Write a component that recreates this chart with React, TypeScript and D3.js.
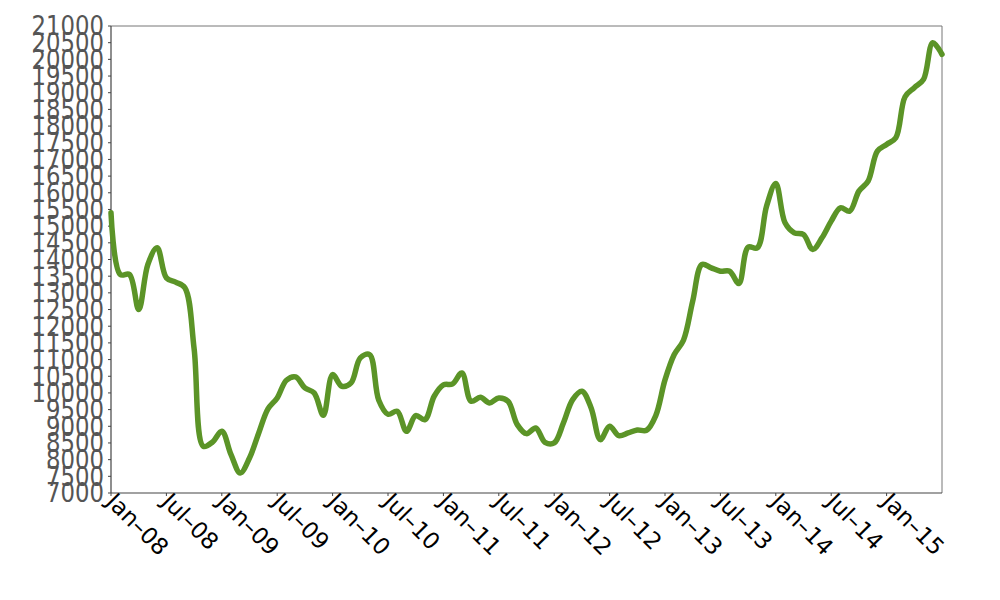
import React from "react";
import * as d3 from "d3";

// Monthly values, Jan-08 .. Jul-15
const values: number[] = [
  15400, 13550, 13550, 12500, 13860, 14350, 13450, 13320, 13150, 11330, 8400, 8530,
  8850, 8150, 7600, 8050, 8800, 9520, 9850, 10380, 10480, 10150, 10000, 9330,
  10550, 10200, 10300, 11050, 11150, 9780, 9360, 9450, 8850, 9320, 9200, 9900,
  10240, 10270, 10600, 9750, 9870, 9700, 9850, 9750, 9050, 8780, 8950, 8520,
  8500, 9100, 9800, 10050, 9550, 8600, 9000, 8720, 8800, 8890, 8880, 9320,
  10390, 11150, 11580, 12750, 13850, 13750, 13650, 13650, 13280, 14370, 14350, 15600,
  16280, 15100, 14800, 14750, 14300, 14650, 15150, 15550, 15450, 16050, 16350, 17250,
  17450, 17650, 18880, 19150, 19400, 20500, 20150,
];

const xTickIndex: number[] = [0, 6, 12, 18, 24, 30, 36, 42, 48, 54, 60, 66, 72, 78, 84];
const xTickLabels: string[] = [
  "Jan\u201308", "Jul\u201308", "Jan\u201309", "Jul\u201309", "Jan\u201310", "Jul\u201310",
  "Jan\u201311", "Jul\u201311", "Jan\u201312", "Jul\u201312", "Jan\u201313", "Jul\u201313",
  "Jan\u201314", "Jul\u201314", "Jan\u201315",
];
const yTicks: number[] = d3.range(7000, 21001, 500);

const W = 1000;
const H = 600;
const left = 111;
const right = 942;
const top = 26;
const bottom = 493;

export default function App() {
  const x = d3.scaleLinear().domain([0, values.length - 1]).range([left, right]);
  const y = d3.scaleLinear().domain([7000, 21000]).range([bottom, top]);
  const line = d3
    .line<number>()
    .x((_, i) => x(i))
    .y((d) => y(d))
    .curve(d3.curveCatmullRom.alpha(0.5));

  return (
    <svg
      width={W}
      height={H}
      style={{ position: "absolute", left: 0, top: 0, background: "#fff" }}
      fontFamily="DejaVu Sans"
    >
      <rect x={0} y={0} width={W} height={H} fill="#fff" />
      {/* frame */}
      <line x1={left} y1={top} x2={right} y2={top} stroke="#777" strokeWidth={1} />
      <line x1={right} y1={top} x2={right} y2={bottom} stroke="#777" strokeWidth={1} />
      <line x1={left} y1={top} x2={left} y2={bottom} stroke="#444" strokeWidth={1.2} />
      <line x1={left} y1={bottom} x2={right} y2={bottom} stroke="#444" strokeWidth={1.2} />

      {/* y ticks */}
      {yTicks.map((t) => (
        <g key={t} transform={`translate(0,${y(t)})`}>
          <line x1={left - 3} x2={left} stroke="#444" />
          <text
            transform={`translate(${left - 7},0) scale(0.95,1.08)`}
            dy="0.36em"
            textAnchor="end"
            fontSize={24}
            fill="#555"
          >
            {t}
          </text>
        </g>
      ))}

      {/* x ticks */}
      {xTickIndex.map((ix, k) => (
        <g key={ix} transform={`translate(${x(ix)},${bottom})`}>
          <line y1={0} y2={3} stroke="#444" />
          <text
            transform="translate(-6,10) rotate(45)"
            textAnchor="start"
            fontSize={23}
            fill="#000"
          >
            {xTickLabels[k]}
          </text>
        </g>
      ))}

      <path
        d={line(values) || ""}
        fill="none"
        stroke="#5b9427"
        strokeWidth={5.5}
        strokeLinejoin="round"
        strokeLinecap="round"
      />
    </svg>
  );
}
